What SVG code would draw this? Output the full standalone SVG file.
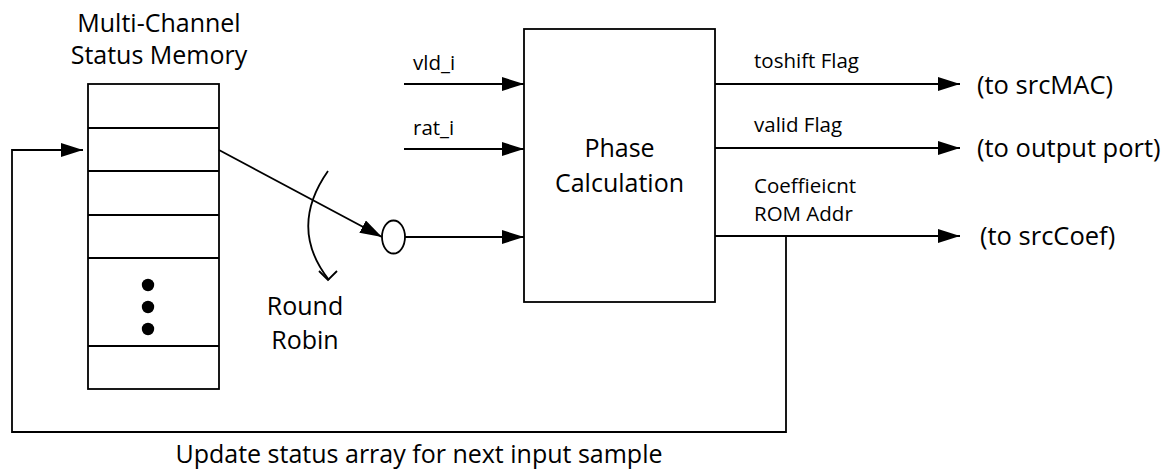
<svg xmlns="http://www.w3.org/2000/svg" width="1162" height="469" viewBox="0 0 1162 469">
  <style>
    .ln { fill: none; stroke: #000; stroke-width: 1.8; }
    .box { fill: #fff; stroke: #000; stroke-width: 1.8; }
    text { font-family: "Open Sans", "Noto Sans", sans-serif; fill: #000; }
    .big { font-size: 25px; }
    .out { font-size: 25.5px; }
    .sm { font-size: 20.5px; }
    .mid { text-anchor: middle; }
  </style>
  <defs>
    <marker id="arrow" viewBox="0 0 22 14" refX="22" refY="7" markerWidth="22" markerHeight="14" markerUnits="userSpaceOnUse" orient="auto">
      <path d="M0,0 L22,7 L0,14 Z" fill="#000"/>
    </marker>
  </defs>

  <rect width="1162" height="469" fill="#fff"/>

  <!-- status memory array -->
  <g id="memory">
    <text class="big mid" x="159" y="32">Multi-Channel</text>
    <text class="big mid" x="159" y="64">Status Memory</text>
    <rect class="box" x="88" y="84" width="131" height="305"/>
    <path class="ln" d="M88,128H219M88,171H219M88,215H219M88,258H219M88,346H219"/>
    <circle cx="148" cy="285" r="6.2"/>
    <circle cx="148" cy="307" r="6.2"/>
    <circle cx="148" cy="329" r="6.2"/>
  </g>

  <!-- round robin selector -->
  <g id="round-robin">
    <path class="ln" d="M328,171 Q288,228 329,280"/>
    <polyline class="ln" points="319,271 328,280 337,271"/>
    <ellipse class="box" cx="393.5" cy="237" rx="11.5" ry="16.5"/>
    <text class="big mid" x="305" y="315">Round</text>
    <text class="big mid" x="305" y="349">Robin</text>
  </g>

  <!-- phase calculation block -->
  <g id="phase-calc">
    <rect class="box" x="524" y="29" width="191" height="273"/>
    <text class="big mid" x="619.5" y="157">Phase</text>
    <text class="big mid" x="619.5" y="192">Calculation</text>
  </g>

  <!-- connectors -->
  <g id="connectors">
    <path class="ln" d="M404,84H524" marker-end="url(#arrow)"/>
    <path class="ln" d="M404,149H524" marker-end="url(#arrow)"/>
    <path class="ln" d="M219,150L382,237" marker-end="url(#arrow)"/>
    <path class="ln" d="M405,237H524" marker-end="url(#arrow)"/>
    <path class="ln" d="M715,84H960" marker-end="url(#arrow)"/>
    <path class="ln" d="M715,148H960" marker-end="url(#arrow)"/>
    <path class="ln" d="M715,236H960" marker-end="url(#arrow)"/>
    <path class="ln" d="M786,236V432H12V150H83" marker-end="url(#arrow)"/>
  </g>

  <!-- signal labels -->
  <g id="labels">
    <text class="sm" x="413" y="70">vld_i</text>
    <text class="sm" x="413" y="135">rat_i</text>
    <text class="sm" x="754" y="68">toshift Flag</text>
    <text class="sm" x="754" y="132">valid Flag</text>
    <text class="sm" x="754" y="193">Coeffieicnt</text>
    <text class="sm" x="754" y="221">ROM Addr</text>
    <text class="out" x="977" y="94">(to srcMAC)</text>
    <text class="out" x="977" y="157">(to output port)</text>
    <text class="out" x="980" y="245">(to srcCoef)</text>
    <text class="big mid" x="419" y="463">Update status array for next input sample</text>
  </g>
</svg>
